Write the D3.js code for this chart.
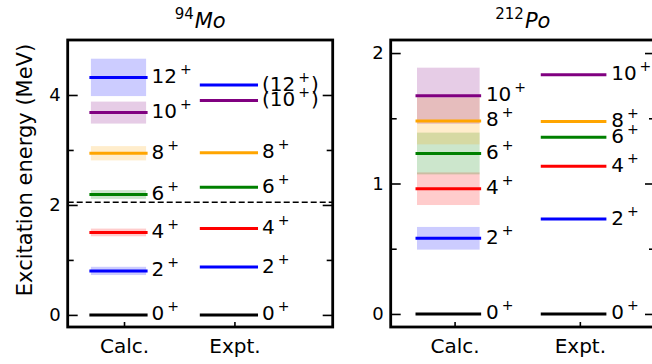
<!DOCTYPE html>
<html>
<head>
<meta charset="utf-8">
<script src="https://cdn.jsdelivr.net/npm/d3@7"></script>
<style>
  body { margin: 0; background: #fff; }
  svg { display: block; font-family: "DejaVu Sans", sans-serif; }
</style>
</head>
<body>
<svg id="chart" width="652" height="364"></svg>
<script>
// spin labels shared by both nuclei
const spins = ['0', '2', '4', '6', '8', '10', '12'];
const spinColors = ['#000000', '#0000ff', '#ff0000', '#008000', '#ffa500', '#800080', '#0000ff'];
const columns = ['Calc.', 'Expt.'];

// 94Mo
const moCalc = [0, 0.80, 1.50, 2.19, 2.94, 3.68, 4.32];
const moCalcErr = [0, 0.075, 0.07, 0.08, 0.13, 0.20, 0.34];
const moExpt = [0, 0.87, 1.57, 2.32, 2.95, 3.90, 4.18];
const moExptTentative = [false, false, false, false, false, true, true];
const moThreshold = 2.05;
const moTicks = [0, 2, 4];
const moMinorTicks = [1, 3];

// 212Po
const poCalc = [0, 0.58, 0.96, 1.23, 1.48, 1.673];
const poCalcErr = [0, 0.087, 0.125, 0.16, 0.18, 0.215];
const poExpt = [0, 0.727, 1.132, 1.355, 1.476, 1.834];
const poTicks = [0, 1, 2];
const poMinorTicks = [0.5, 1.5];

const svg = d3.select('#chart');
const plotTop = 40, plotBottom = 327;

function drawPanel(cfg) {
    const x = d3.scaleLinear().domain(cfg.xDomain).range([cfg.left, cfg.right]);
    const y = d3.scaleLinear().domain(cfg.yDomain).range([plotBottom, plotTop]);
    const g = svg.append('g');

    // uncertainty bands first, low to high spin
    cfg.calc.forEach((v, i) => {
        if (!cfg.err[i]) return;
        g.append('rect')
            .attr('x', x(0.7))
            .attr('width', x(1.2) - x(0.7))
            .attr('y', y(v + cfg.err[i]))
            .attr('height', y(v - cfg.err[i]) - y(v + cfg.err[i]))
            .attr('fill', spinColors[i])
            .attr('fill-opacity', 0.2);
    });

    if (cfg.threshold != null) {
        g.append('line')
            .attr('x1', cfg.left).attr('x2', cfg.right)
            .attr('y1', y(cfg.threshold)).attr('y2', y(cfg.threshold))
            .attr('stroke', '#000').attr('stroke-width', 1.6)
            .attr('stroke-dasharray', '6,3');
    }

    const series = [
        { pos: 1, vals: cfg.calc, tent: cfg.calc.map(() => false) },
        { pos: 2, vals: cfg.expt, tent: cfg.tentative || cfg.expt.map(() => false) },
    ];

    series.forEach(s => {
        s.vals.forEach((v, i) => {
            g.append('line')
                .attr('x1', x(s.pos - 0.3)).attr('x2', x(s.pos + 0.2))
                .attr('y1', y(v)).attr('y2', y(v))
                .attr('stroke', spinColors[i])
                .attr('stroke-width', 3)
                .attr('stroke-linecap', 'square');

            const t = g.append('text')
                .attr('x', x(s.pos + 0.25))
                .attr('y', y(v) + 5.5)
                .attr('font-size', 20)
                .attr('fill', '#000');
            if (s.tent[i]) t.append('tspan').text('(');
            t.append('tspan').text(spins[i]);
            t.append('tspan').text('+').attr('font-size', 14).attr('dx', 3).attr('dy', -9);
            if (s.tent[i]) t.append('tspan').text(')').attr('font-size', 20).attr('dx', 1).attr('dy', 9);
        });
    });

    // ticks, all pointing inward
    const styleAxis = a => {
        a.select('.domain').remove();
        a.selectAll('line').attr('stroke', '#000').attr('stroke-width', 1.6);
        a.selectAll('text').attr('font-size', 18).attr('fill', '#000')
            .attr('font-family', '"DejaVu Sans", sans-serif');
    };

    g.append('g').attr('transform', `translate(${cfg.left},0)`)
        .call(d3.axisLeft(y).tickValues(cfg.ticks).tickSize(-10).tickPadding(7).tickFormat(d3.format('d')))
        .call(styleAxis);
    g.append('g').attr('transform', `translate(${cfg.left},0)`)
        .call(d3.axisLeft(y).tickValues(cfg.minor).tickSize(-6).tickFormat(''))
        .call(styleAxis);
    g.append('g').attr('transform', `translate(${cfg.right},0)`)
        .call(d3.axisRight(y).tickValues(cfg.ticks).tickSize(-10).tickFormat(''))
        .call(styleAxis);
    g.append('g').attr('transform', `translate(${cfg.right},0)`)
        .call(d3.axisRight(y).tickValues(cfg.minor).tickSize(-6).tickFormat(''))
        .call(styleAxis);
    g.append('g').attr('transform', `translate(0,${plotBottom})`)
        .call(d3.axisBottom(x).tickValues([1, 2]).tickSize(-5).tickFormat((d, i) => columns[i]))
        .call(styleAxis)
        .call(a => a.selectAll('text').attr('font-size', 20).attr('dy', 0).attr('y', 26));

    // frame
    g.append('rect')
        .attr('x', cfg.left).attr('y', plotTop)
        .attr('width', cfg.right - cfg.left).attr('height', plotBottom - plotTop)
        .attr('fill', 'none').attr('stroke', '#000').attr('stroke-width', 2.8);

    // title
    const title = g.append('text')
        .attr('x', (cfg.left + cfg.right) / 2)
        .attr('y', 28)
        .attr('text-anchor', 'middle')
        .attr('font-size', 21);
    title.append('tspan').text(cfg.mass).attr('font-size', 15).attr('dy', -9);
    title.append('tspan').text(cfg.element).attr('font-style', 'italic').attr('dy', 9).attr('dx', 1);
}

drawPanel({
    left: 67.7, right: 332.7, xDomain: [0.49, 2.89], yDomain: [-0.22, 5.0],
    calc: moCalc, err: moCalcErr, expt: moExpt, tentative: moExptTentative,
    threshold: moThreshold, ticks: moTicks, minor: moMinorTicks,
    mass: '94', element: 'Mo'
});

drawPanel({
    left: 390.7, right: 655, xDomain: [0.49, 2.6], yDomain: [-0.1, 2.1],
    calc: poCalc, err: poCalcErr, expt: poExpt,
    ticks: poTicks, minor: poMinorTicks,
    mass: '212', element: 'Po'
});

svg.append('text')
    .attr('transform', 'translate(31.5,170) rotate(-90)')
    .attr('text-anchor', 'middle')
    .attr('font-size', 21)
    .text('Excitation energy (MeV)');
</script>
</body>
</html>
